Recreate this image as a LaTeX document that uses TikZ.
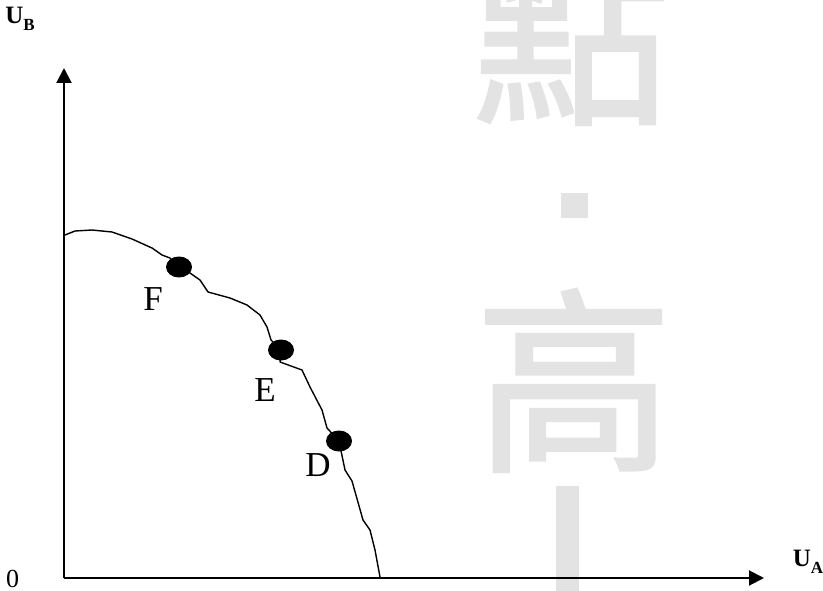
\documentclass[tikz,border=0pt]{standalone}
\usepackage{fontspec}
\setmainfont{Liberation Serif}
\newfontfamily\cjk[FakeBold=1.5]{Noto Sans CJK TC}
\usetikzlibrary{arrows.meta, positioning, shapes.geometric}
\definecolor{wmgray}{HTML}{E3E3E3}

\begin{document}
\begin{tikzpicture}[x=1pt, y=-1pt, >={Triangle[length=15pt, width=15pt]},
        axis/.style={line width=2pt, ->},
        dot/.style={ellipse, fill=black, minimum width=26pt, minimum height=21pt, inner sep=0pt},
        plabel/.style={font=\fontsize{35}{38}\selectfont, inner sep=0pt},
        ulabel/.style={font=\bfseries\fontsize{25}{27}\selectfont, inner sep=0pt},
        wm/.style={text=wmgray, font=\cjk\fontsize{198}{205}\selectfont, inner sep=0pt, anchor=base}]
        \useasboundingbox (0,0) rectangle (823,591);
        % watermark
        \node[wm] (wm1) at (571,109) {點};
        \node[wm] (wm2) at (574,456) {高};
        \fill[wmgray] (561,193) rectangle (588,218);
        \fill[wmgray] (556,486) rectangle (579,591);
        % axes
        \coordinate (O) at (64,578);
        \coordinate (ytip) at (64,68);
        \coordinate (xtip) at (764,578);
        \draw[axis] (O) -- (ytip);
        \draw[axis] (O) -- (xtip);
        \node[font=\fontsize{26}{28}\selectfont, inner sep=0pt] (zero) at (12.5,579) {0};
        \node[ulabel] (uB) at (20,19) {U\raisebox{-0.3em}{\fontsize{17}{18}\selectfont B}};
        \node[ulabel] (uA) at (808,562) {U\raisebox{-0.3em}{\fontsize{17}{18}\selectfont A}};
        % points on the frontier
        \node[dot] (dotF) at (179,267) {};
        \node[dot] (dotE) at (281,350) {};
        \node[dot] (dotD) at (339,441) {};
        \node[plabel] (F) at (153,299) {F};
        \node[plabel] (E) at (265,390) {E};
        \node[plabel] (D) at (318,465) {D};
        \draw[line width=1.4pt, line join=round] (65,235) -- (75,231) -- (92,230) -- (112,232)
            -- (132,239) -- (152,248) -- (162,255) -- (170,258) -- (dotF.center)
            -- (190,273) -- (200,280) -- (208,292) -- (230,298) -- (247,305) -- (260,315)
            -- (267,327) -- (271,340) -- (dotE.center) -- (280,362) -- (302,370) -- (310,387)
            -- (322,410) -- (327,428) -- (dotD.center) -- (345,470) -- (352,481) -- (363,520)
            -- (370,530) -- (375,550) -- (380,577);
    \end{tikzpicture}
\end{document}
